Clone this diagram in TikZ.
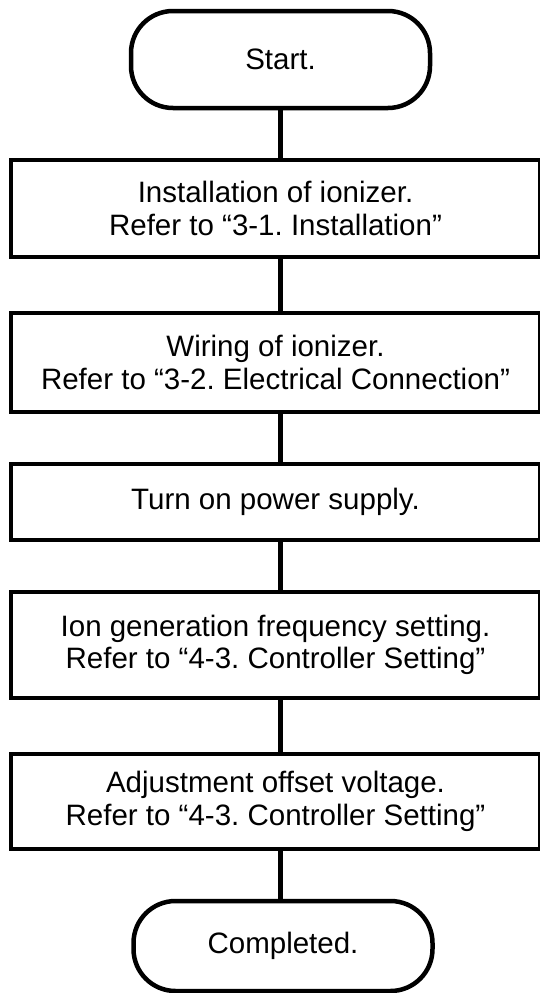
\documentclass[tikz,border=0pt]{standalone}
\usepackage{fontspec}
\setmainfont{Liberation Sans}
\frenchspacing

\begin{document}
\begin{tikzpicture}[x=1pt, y=1pt, line width=4.5pt,
  every node/.style={font=\fontsize{29.5}{32.5}\selectfont, align=center, inner sep=0pt},
  term/.style={draw, rounded corners=42pt, minimum width=299pt},
  stepbox/.style={draw, minimum width=529pt}]
  \useasboundingbox (0,0) rectangle (540,-993);

  % Start and end
  \node[term, minimum height=97pt] (start) at (280.5,-59.5) {Start.};
  \node[term, minimum height=90pt] (done) at (283,-946) {Completed.};

  % Steps
  \node[stepbox, minimum height=97pt] (install) at (275.5,-208.5)
    {Installation of ionizer.\\Refer to “3-1. Installation”};
  \node[stepbox, minimum height=99pt] (wiring) at (275.5,-362.5)
    {Wiring of ionizer.\\Refer to “3-2. Electrical Connection”};
  \node[stepbox, minimum height=76pt] (power) at (275.5,-502)
    {Turn on power supply.};
  \node[stepbox, minimum height=106pt] (freq) at (275.5,-645)
    {Ion generation frequency setting.\\Refer to “4-3. Controller Setting”};
  \node[stepbox, minimum height=95pt] (offset) at (275.5,-801.5)
    {Adjustment offset voltage.\\Refer to “4-3. Controller Setting”};

  % Connectors
  \draw (start.south) -- (install.north -| start);
  \draw (install.south -| start) -- (wiring.north -| start);
  \draw (wiring.south -| start) -- (power.north -| start);
  \draw (power.south -| start) -- (freq.north -| start);
  \draw (freq.south -| start) -- (offset.north -| start);
  \draw (offset.south -| start) -- (done.north -| start);
\end{tikzpicture}
\end{document}
